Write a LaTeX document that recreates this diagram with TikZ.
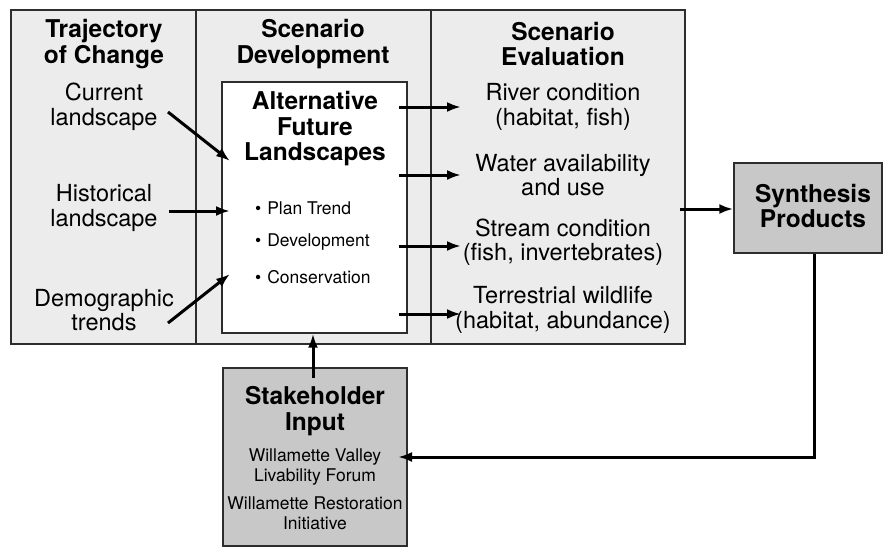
\documentclass[tikz,border=0pt]{standalone}
\usepackage{fontspec}
\setmainfont{TeX Gyre Heros}
\usetikzlibrary{arrows.meta}
\definecolor{panelgray}{RGB}{236,236,236}
\definecolor{boxgray}{RGB}{200,200,200}
\definecolor{edgegray}{RGB}{45,45,45}
\tikzset{
  head/.style={font=\fontsize{24.5}{25.5}\selectfont\bfseries, align=center, inner sep=0pt},
  body/.style={font=\fontsize{23.5}{24.5}\selectfont, align=center, inner sep=0pt},
  small/.style={font=\fontsize{17.5}{19.5}\selectfont, align=center, inner sep=0pt},
  bullet/.style={font=\fontsize{17.5}{19}\selectfont, anchor=west, inner sep=0pt},
  frame/.style={draw=edgegray, line width=1.3pt},
  arr/.style={line width=3pt, -{Latex[length=14pt,width=10pt]}},
}
\begin{document}
\begin{tikzpicture}[x=1pt,y=-1pt]
\useasboundingbox (0,0) rectangle (883,546);
% main panel
\draw[frame, fill=panelgray] (11,10) rectangle (685,344);
\draw[frame] (196,10) -- (196,344);
\draw[frame] (431,10) -- (431,344);
% white box
\node[frame, fill=white, minimum width=185pt, minimum height=251pt, inner sep=0pt] (alt) at (314.5,207.5) {};
% gray boxes
\node[frame, fill=boxgray, minimum width=148pt, minimum height=90pt, inner sep=0pt] (syn) at (808,208) {};
\node[frame, fill=boxgray, minimum width=184pt, minimum height=178pt, inner sep=0pt] (stk) at (315,457) {};

% headings
\node[head] (h1) at (104,44) {Trajectory\\of Change};
\node[head] (h2) at (313,44) {Scenario\\Development};
\node[head] (h3) at (563,44) {Scenario\\Evaluation};

% left column
\node[body] (cur) at (104,107) {Current\\landscape};
\node[body] (his) at (104,208) {Historical\\landscape};
\node[body] (dem) at (104,310) {Demographic\\trends};

% alternative futures
\node[head] (altt) at (315,129) {Alternative\\Future\\Landscapes};
\node[bullet] (b1) at (255,208) {\textbullet\hspace{6pt}Plan Trend};
\node[bullet] (b2) at (255,242) {\textbullet\hspace{6pt}Development};
\node[bullet] (b3) at (255,277) {\textbullet\hspace{6pt}Conservation};

% evaluation items
\node[body] (e1) at (563,107) {River condition\\(habitat, fish)};
\node[body] (e2) at (563,175) {Water availability\\and use};
\node[body] (e3) at (563,242) {Stream condition\\(fish, invertebrates)};
\node[body] (e4) at (563,310) {Terrestrial wildlife\\(habitat, abundance)};

% synthesis text
\node[head] (synt) at (813,206) {Synthesis\\Products};

% stakeholder text
\node[head] (stkt) at (315,411) {Stakeholder\\Input};
\node[small] (wv) at (315,467) {Willamette Valley\\Livability Forum};
\node[small] (wr) at (315,513) {Willamette Restoration\\Initiative};

% left arrows
\coordinate (c1s) at (168,112); \coordinate (c1e) at (230,161);
\coordinate (c2s) at (169,211); \coordinate (c2e) at (230,211);
\coordinate (c3s) at (168,323); \coordinate (c3e) at (230,274);
\draw[arr] (c1s) -- (c1e);
\draw[arr] (c2s) -- (c2e);
\draw[arr] (c3s) -- (c3e);

% right arrows
\foreach \yy in {107,175,246,314}{
  \draw[arr] (399,\yy) -- (461,\yy);
}

% to synthesis
\coordinate (es) at (680,209);
\draw[arr] (es) -- (syn.west |- es);

% stakeholder up
\draw[arr] (313,378) -- (alt.south -| 313,0);

% feedback
\coordinate (fb1) at (814,457);
\draw[arr] (syn.south -| fb1) -- (fb1) -- (398,457);
\end{tikzpicture}
\end{document}
